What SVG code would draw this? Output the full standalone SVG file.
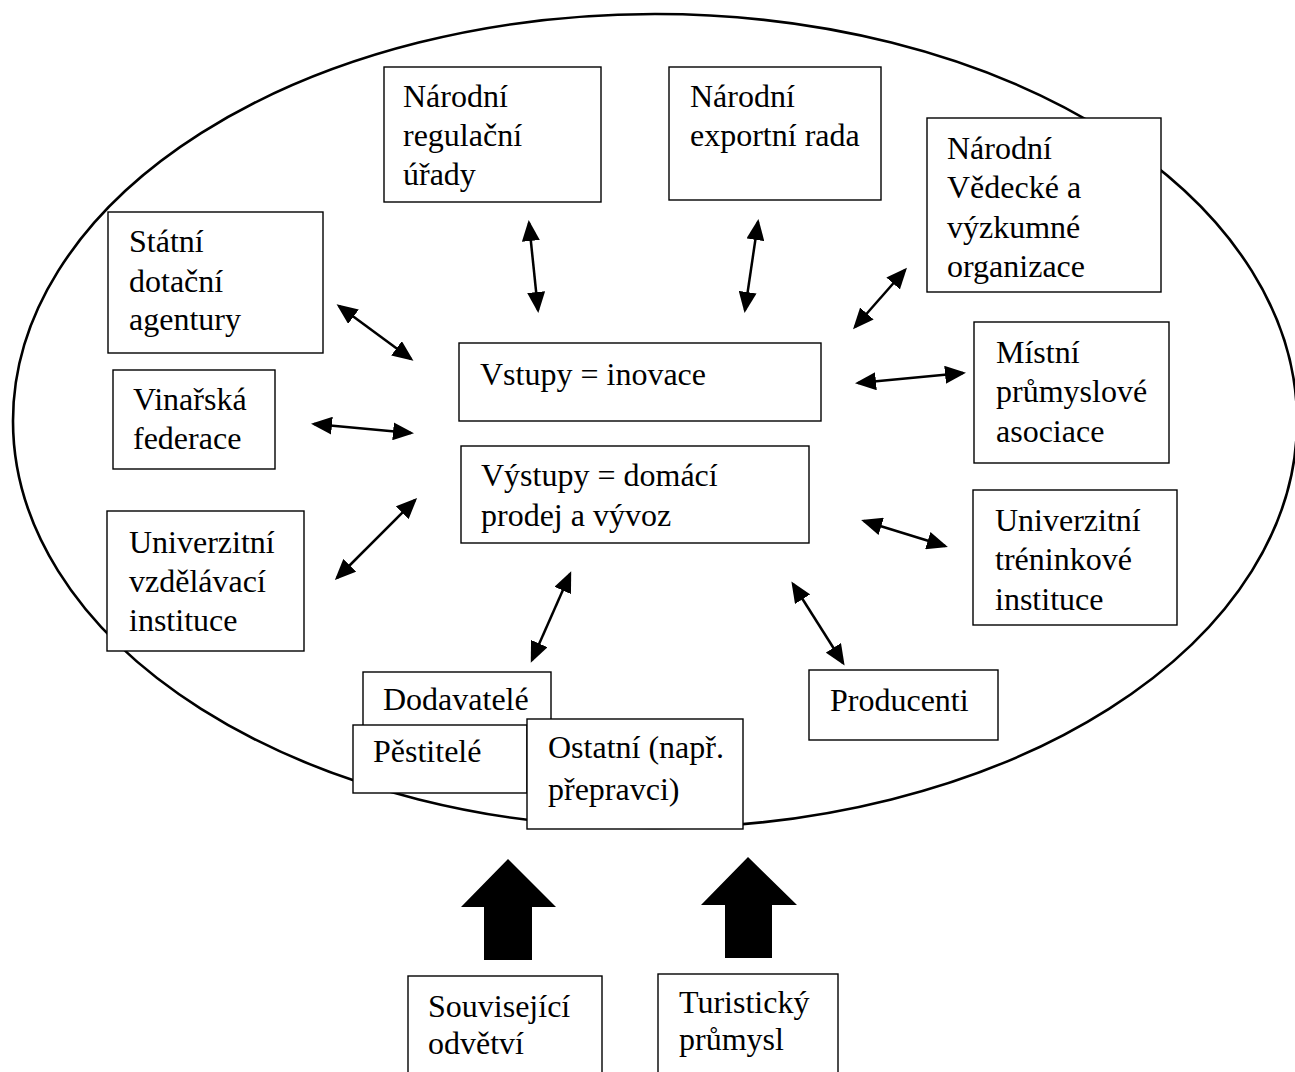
<svg xmlns="http://www.w3.org/2000/svg" width="1295" height="1072" viewBox="0 0 1295 1072">
<style>
.box{fill:#fff;stroke:#000;stroke-width:1.4}
.t{font-family:'Liberation Serif','Times New Roman',serif;font-size:32px;fill:#000}
.con{stroke:#000;stroke-width:2.5;fill:none;marker-start:url(#ah);marker-end:url(#ah)}
</style>
<defs>
<marker id="ah" markerUnits="userSpaceOnUse" markerWidth="21" markerHeight="18" refX="18" refY="9" orient="auto-start-reverse" viewBox="0 0 21 18">
<path d="M0,0 L21,9 L0,18 z" fill="#000"/>
</marker>
</defs>
<rect width="1295" height="1072" fill="#fff"/>
<ellipse id="cluster" cx="655" cy="421" rx="642" ry="407" fill="none" stroke="#000" stroke-width="2.6"/>

<g id="connectors">
<line class="con" x1="529" y1="223" x2="538" y2="310"/>
<line class="con" x1="758" y1="222" x2="745" y2="310"/>
<line class="con" x1="339" y1="306" x2="411" y2="359"/>
<line class="con" x1="314" y1="424" x2="411" y2="433"/>
<line class="con" x1="415" y1="500" x2="337" y2="578"/>
<line class="con" x1="905" y1="270" x2="855" y2="327"/>
<line class="con" x1="858" y1="383" x2="963" y2="373"/>
<line class="con" x1="864" y1="521" x2="945" y2="546"/>
<line class="con" x1="793" y1="584" x2="843" y2="663"/>
<line class="con" x1="570" y1="574" x2="532" y2="660"/>
</g>

<g id="n-regulacni">
<rect class="box" x="384" y="67" width="217" height="135"/>
<text class="t" x="403" y="107">Národní</text>
<text class="t" x="403" y="146">regulační</text>
<text class="t" x="403" y="185">úřady</text>
</g>
<g id="n-export">
<rect class="box" x="669" y="67" width="212" height="133"/>
<text class="t" x="690" y="107">Národní</text>
<text class="t" x="690" y="146">exportní rada</text>
</g>
<g id="n-vedecke">
<rect class="box" x="927" y="118" width="234" height="174"/>
<text class="t" x="947" y="159">Národní</text>
<text class="t" x="947" y="198">Vědecké a</text>
<text class="t" x="947" y="238">výzkumné</text>
<text class="t" x="947" y="277">organizace</text>
</g>
<g id="n-statni">
<rect class="box" x="108" y="212" width="215" height="141"/>
<text class="t" x="129" y="252">Státní</text>
<text class="t" x="129" y="292">dotační</text>
<text class="t" x="129" y="330">agentury</text>
</g>
<g id="n-vinarska">
<rect class="box" x="113" y="370" width="162" height="99"/>
<text class="t" x="133" y="410">Vinařská</text>
<text class="t" x="133" y="449">federace</text>
</g>
<g id="n-univ-vzdel">
<rect class="box" x="107" y="511" width="197" height="140"/>
<text class="t" x="129" y="553">Univerzitní</text>
<text class="t" x="129" y="592">vzdělávací</text>
<text class="t" x="129" y="631">instituce</text>
</g>
<g id="n-vstupy">
<rect class="box" x="459" y="343" width="362" height="78"/>
<text class="t" x="480" y="385">Vstupy = inovace</text>
</g>
<g id="n-vystupy">
<rect class="box" x="461" y="446" width="348" height="97"/>
<text class="t" x="481" y="486">Výstupy = domácí</text>
<text class="t" x="481" y="526">prodej a vývoz</text>
</g>
<g id="n-mistni">
<rect class="box" x="974" y="322" width="195" height="141"/>
<text class="t" x="996" y="363">Místní</text>
<text class="t" x="996" y="402">průmyslové</text>
<text class="t" x="996" y="442">asociace</text>
</g>
<g id="n-univ-trenink">
<rect class="box" x="973" y="490" width="204" height="135"/>
<text class="t" x="995" y="531">Univerzitní</text>
<text class="t" x="995" y="570">tréninkové</text>
<text class="t" x="995" y="610">instituce</text>
</g>
<g id="n-producenti">
<rect class="box" x="809" y="670" width="189" height="70"/>
<text class="t" x="830" y="711">Producenti</text>
</g>
<g id="n-dodavatele">
<rect class="box" x="363" y="672" width="188" height="60"/>
<text class="t" x="383" y="710">Dodavatelé</text>
</g>
<g id="n-pestitele">
<rect class="box" x="353" y="725" width="174" height="68"/>
<text class="t" x="373" y="762">Pěstitelé</text>
</g>
<g id="n-ostatni">
<rect class="box" x="527" y="719" width="216" height="110"/>
<text class="t" x="548" y="758">Ostatní (např.</text>
<text class="t" x="548" y="800">přepravci)</text>
</g>

<g id="big-arrows" fill="#000">
<polygon points="508,859 556,907 532,907 532,960 484,960 484,907 461,907"/>
<polygon points="748,857 797,905 772,905 772,958 725,958 725,905 701,905"/>
</g>

<g id="n-souvisejici">
<rect class="box" x="408" y="976" width="194" height="110"/>
<text class="t" x="428" y="1017">Související</text>
<text class="t" x="428" y="1054">odvětví</text>
</g>
<g id="n-turisticky">
<rect class="box" x="658" y="974" width="180" height="110"/>
<text class="t" x="679" y="1013">Turistický</text>
<text class="t" x="679" y="1050">průmysl</text>
</g>
</svg>
